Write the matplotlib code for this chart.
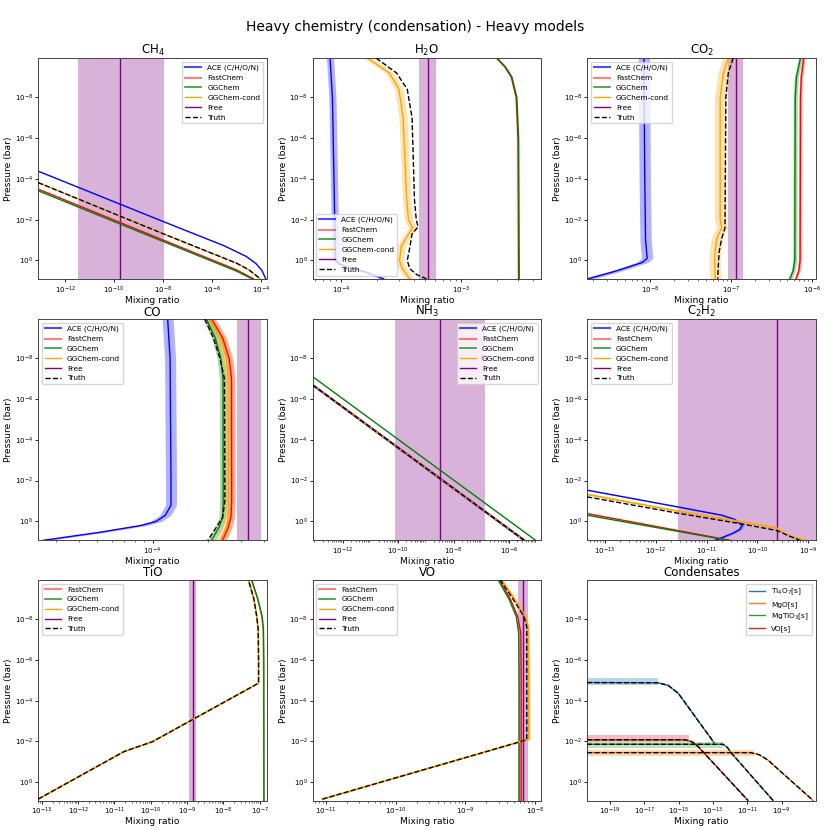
import numpy as np
import matplotlib
matplotlib.use("Agg")
from matplotlib import pyplot as plt
from matplotlib.lines import Line2D

# values
# every profile is stored as log10(pressure / bar) and log10(mixing ratio)

# CH4
ch4_ace_lp = [-4.38, -1.90, -0.72, -0.2, 0.15, 0.5, 0.9]
ch4_ace_lx = [-13.1, -7.97, -5.5, -4.6, -4.2, -3.95, -3.8]
ch4_cond_lp = [-3.82, -1.30, 0.13, 0.45, 0.9]
ch4_cond_lx = [-13.1, -7.97, -5.0, -4.5, -4.02]
ch4_fast_lp = [-3.50, -0.99, 0.46, 0.9]
ch4_fast_lx = [-13.1, -7.97, -5.0, -4.3]
ch4_gg_lp = [-3.42, -0.92, 0.52, 0.9]
ch4_gg_lx = [-13.1, -7.97, -5.0, -4.36]
ch4_free = [-9.76, -11.49, -7.97]

# H2O
h2o_ace_lp = [-9.93, -8.0, -4.0, -2.0, 0.0, 0.2, 0.4, 0.6, 0.9]
h2o_ace_lx = [-4.095, -4.075, -4.062, -4.056, -4.05, -4.01, -3.9, -3.78, -3.65]
h2o_cond_lp = [-9.93, -9.2, -8.4, -7.0, -5.0, -3.0, -2.0, -1.6, -1.2, -0.7, 0.0, 0.4, 0.9]
h2o_cond_lx = [-3.78, -3.6, -3.52, -3.485, -3.47, -3.455, -3.44, -3.405, -3.45, -3.5, -3.515, -3.49, -3.43]
h2o_truth_lp = [-9.93, -9.2, -8.4, -7.0, -3.0, -2.0, -1.65, -1.3, -0.6, 0.0, 0.4, 0.7, 0.9]
h2o_truth_lx = [-3.71, -3.54, -3.45, -3.41, -3.39, -3.375, -3.36, -3.41, -3.43, -3.45, -3.43, -3.37, -3.29]
h2o_gg_lp = [-9.93, -9.5, -9.0, -8.0, -6.0, 0.9]
h2o_gg_lx = [-2.70, -2.63, -2.576, -2.535, -2.52, -2.515]
h2o_fast_lx = [-2.706, -2.636, -2.582, -2.541, -2.526, -2.521]
h2o_free = [-3.28, -3.35, -3.21]

# CO2
co2_ace_lp = [-9.93, -4.0, -1.0, -0.1, 0.1, 0.24, 0.4, 0.56, 0.9]
co2_ace_lx = [-8.07, -8.06, -8.05, -8.03, -8.09, -8.2, -8.32, -8.45, -8.76]
co2_cond_lp = [-9.93, -9.2, -8.0, -2.0, -1.6, -1.1, -0.5, 0.0, 0.9]
co2_cond_lx = [-7.03, -7.09, -7.13, -7.13, -7.11, -7.17, -7.19, -7.2, -7.19]
co2_truth_lx = [-6.97, -7.03, -7.06, -7.07, -7.07, -7.11, -7.14, -7.15, -7.16]
co2_gg_lp = [-9.93, -9.0, -8.0, 0.0, 0.5, 0.9]
co2_gg_lx = [-6.14, -6.19, -6.205, -6.21, -6.23, -6.27]
co2_fast_lx = [-6.10, -6.13, -6.14, -6.145, -6.16, -6.196]
co2_free = [-6.94, -7.03, -6.85]

# CO
co_ace_lp = [-9.93, -8.0, -2.0, -0.8, -0.3, 0.0, 0.2, 0.53, 0.93]
co_ace_lx = [-3.918, -3.905, -3.9, -3.9, -3.93, -3.98, -4.06, -4.28, -4.59]
co_lp = [-9.93, -9.0, -8.0, -7.0, -1.0, -0.2, 0.3, 0.93]
co_gg_lx = [-3.708, -3.66, -3.63, -3.618, -3.617, -3.62, -3.64, -3.68]
co_cond_lx = [-3.69, -3.63, -3.6, -3.59, -3.59, -3.59, -3.6, -3.63]
co_fast_lx = [-3.68, -3.62, -3.585, -3.572, -3.571, -3.575, -3.59, -3.62]
co_truth_lx = [-3.717, -3.67, -3.635, -3.61, -3.608, -3.62, -3.655, -3.70]
co_free = [-3.48, -3.544, -3.413]

# NH3
nh3_lp = [-6.69, 0.93]
nh3_lx = [-13.08, -5.45]
nh3_gg_lp = [-7.1, 0.93]
nh3_gg_lx = [-13.08, -5.04]
nh3_free = [-8.47, -10.1, -6.88]

# C2H2
c2h2_ace_lp = [-1.53, -0.71, -0.3, -0.1, 0.19, 0.4, 0.6, 0.93]
c2h2_ace_lx = [-13.35, -11.57, -10.7, -10.45, -10.3, -10.35, -10.5, -10.83]
c2h2_cond_lp = [-1.32, -0.5, 0.0, 0.33, 0.69, 0.93]
c2h2_cond_lx = [-13.35, -11.57, -10.37, -9.62, -9.4, -9.07]
c2h2_truth_lp = [-1.2, -0.4, 0.1, 0.45, 0.75, 0.93]
c2h2_truth_lx = [-13.35, -11.57, -10.37, -9.62, -9.35, -9.16]
c2h2_fast_lp = [-0.38, 0.93]
c2h2_fast_lx = [-13.35, -10.54]
c2h2_gg_lp = [-0.30, 0.93]
c2h2_gg_lx = [-13.35, -10.58]
c2h2_free = [-9.62, -11.57, -8.5]

# TiO
tio_cond_lp = [0.83, -1.50, -1.99, -4.86, -6.0, -7.5, -8.13, -9.0, -9.93]
tio_cond_lx = [-13.1, -10.74, -9.95, -7.03, -7.03, -7.04, -7.08, -7.16, -7.31]
tio_gg_lp = [-9.93, -9.0, -8.13, -7.5, -6.0, 0.9]
tio_gg_lx = [-7.22, -7.05, -6.93, -6.895, -6.885, -6.88]
tio_fast_lx = [-7.23, -7.06, -6.945, -6.905, -6.895, -6.89]
tio_free = [-8.84, -8.95, -8.74]

# VO
vo_cond_lp = [0.83, -2.08, -2.1, -5.0, -7.64, -8.13, -8.95, -9.93]
vo_cond_lx = [-11.05, -8.12, -8.09, -8.09, -8.1, -8.14, -8.29, -8.48]
vo_truth_lp = [0.83, -2.08, -5.0, -7.64, -8.13, -8.95, -9.93]
vo_truth_lx = [-11.05, -8.12, -8.12, -8.12, -8.16, -8.31, -8.5]
vo_gg_lp = [-9.93, -8.95, -8.13, -7.3, -5.0, 0.9]
vo_gg_lx = [-8.53, -8.37, -8.27, -8.235, -8.23, -8.23]
vo_fast_lx = [-8.51, -8.35, -8.25, -8.205, -8.2, -8.2]
vo_free = [-8.17, -8.24, -8.10]

# Condensates
ti4o7_lp = [-4.89, -4.88, -4.75, -4.37, -1.94]
ti4o7_lx = [-20.32, -16.2, -15.6, -15.02, -12.93]
mgo_lp = [-1.45, -1.45, -1.35, -1.09, 0.9]
mgo_lx = [-20.32, -10.8, -10.3, -9.8, -7.16]
mgtio3_lp = [-1.86, -1.86, -1.7, -1.42, 0.9]
mgtio3_lx = [-20.32, -12.4, -12.15, -11.91, -9.49]
vos_lp = [-2.08, -2.08, -1.98, -1.75, 0.9]
vos_lx = [-20.32, -14.6, -14.2, -13.86, -10.95]
# condensation-pressure spread: (low, high, x where it closes)
ti4o7_band = [-5.1, -4.78, -16.2]
mgo_band = [-1.59, -1.3, -10.6]
mgtio3_band = [-1.99, -1.7, -12.4]
vos_band = [-2.32, -1.99, -14.4]

FS = 5.1
P_LIM = (10 ** 0.92, 10 ** -9.93)


def curve(ax, lp, lx, color, err=0.0, ls='-', lw=1.0, alpha=1.0, z=2):
    p = 10.0 ** np.asarray(lp)
    x = 10.0 ** np.asarray(lx)
    if err:
        ax.fill_betweenx(p, x / 10 ** err, x * 10 ** err, color=color, alpha=0.3, lw=0, zorder=z)
    ax.plot(x, p, color=color, ls=ls, lw=lw, alpha=alpha, zorder=z + 0.1)


def free(ax, vals):
    ax.axvspan(10 ** vals[1], 10 ** vals[2], color='purple', alpha=0.3, lw=0, zorder=1)
    ax.axvline(10 ** vals[0], color='purple', lw=1.0, zorder=1.5)


def handles(ace=True):
    h = []
    if ace:
        h.append(Line2D([], [], color='blue', lw=1.5, alpha=0.7, label='ACE (C/H/O/N)'))
    h += [Line2D([], [], color='red', lw=1.5, alpha=0.5, label='FastChem'),
          Line2D([], [], color='green', lw=1.2, alpha=0.8, label='GGChem'),
          Line2D([], [], color='orange', lw=1.0, label='GGChem-cond'),
          Line2D([], [], color='purple', lw=1.0, label='Free'),
          Line2D([], [], color='k', ls='--', lw=1.0, label='Truth')]
    return h


def setup(ax, title, xlim, xticks, loc, hs):
    ax.set_xscale('log')
    ax.set_yscale('log')
    ax.set_xlim(10 ** xlim[0], 10 ** xlim[1])
    ax.set_ylim(*P_LIM)
    ax.set_xticks([10.0 ** t for t in xticks])
    ax.set_yticks([1e-8, 1e-6, 1e-4, 1e-2, 1e0])
    ax.tick_params(labelsize=FS, width=0.6, length=2.5, pad=1.2)
    ax.tick_params(which='minor', width=0.4, length=1.5)
    ax.set_title(title, fontsize=8.5, pad=2.5)
    ax.set_xlabel('Mixing ratio', fontsize=6.6, labelpad=0)
    ax.set_ylabel('Pressure (bar)', fontsize=6.6, labelpad=1)
    for s in ax.spines.values():
        s.set_linewidth(0.7)
        s.set_color('#444444')
    ax.legend(handles=hs, loc=loc, fontsize=5.3, handlelength=2.2,
              borderpad=0.4, labelspacing=0.5, framealpha=0.8)


fig, axs = plt.subplots(3, 3, figsize=(8.3, 8.3), dpi=100)
fig.subplots_adjust(left=0.046, right=0.983, top=0.930, bottom=0.035, wspace=0.20, hspace=0.18)
fig.suptitle('Heavy chemistry (condensation) - Heavy models', fontsize=10, y=0.976)

# CH4
ax = axs[0, 0]
free(ax, ch4_free)
curve(ax, ch4_ace_lp, ch4_ace_lx, 'blue')
curve(ax, ch4_fast_lp, ch4_fast_lx, 'red')
curve(ax, ch4_gg_lp, ch4_gg_lx, 'green')
curve(ax, ch4_cond_lp, ch4_cond_lx, 'orange')
curve(ax, ch4_cond_lp, ch4_cond_lx, 'k', ls='--', z=3)
setup(ax, 'CH$_4$', (-13.1, -3.75), [-12, -10, -8, -6, -4], 'upper right', handles())

# H2O
ax = axs[0, 1]
free(ax, h2o_free)
curve(ax, h2o_ace_lp, h2o_ace_lx, 'blue', err=0.03)
curve(ax, h2o_gg_lp, h2o_fast_lx, 'red')
curve(ax, h2o_gg_lp, h2o_gg_lx, 'green')
curve(ax, h2o_cond_lp, h2o_cond_lx, 'orange', err=0.035)
curve(ax, h2o_truth_lp, h2o_truth_lx, 'k', ls='--', z=3)
setup(ax, 'H$_2$O', (-4.24, -2.33), [-4, -3], 'lower left', handles())

# CO2
ax = axs[0, 2]
free(ax, co2_free)
curve(ax, co2_ace_lp, co2_ace_lx, 'blue', err=0.07)
curve(ax, co2_gg_lp, co2_fast_lx, 'red', err=0.02)
curve(ax, co2_gg_lp, co2_gg_lx, 'green', err=0.025)
curve(ax, co2_cond_lp, co2_cond_lx, 'orange', err=0.07)
curve(ax, co2_cond_lp, co2_truth_lx, 'k', ls='--', z=3)
setup(ax, 'CO$_2$', (-8.77, -5.95), [-8, -7, -6], 'upper left', handles())

# CO
ax = axs[1, 0]
free(ax, co_free)
curve(ax, co_ace_lp, co_ace_lx, 'blue', err=0.03)
curve(ax, co_lp, co_fast_lx, 'red', err=0.02)
curve(ax, co_lp, co_gg_lx, 'green', err=0.02)
curve(ax, co_lp, co_cond_lx, 'orange', err=0.03)
curve(ax, co_lp, co_truth_lx, 'k', ls='--', z=3)
setup(ax, 'CO', (-4.62, -3.38), [-4], 'upper left', handles())

# NH3
ax = axs[1, 1]
free(ax, nh3_free)
curve(ax, nh3_lp, nh3_lx, 'blue', err=0.05, lw=1.5)
curve(ax, nh3_lp, nh3_lx, 'red')
curve(ax, nh3_gg_lp, nh3_gg_lx, 'green')
curve(ax, nh3_lp, nh3_lx, 'orange')
curve(ax, nh3_lp, nh3_lx, 'k', ls='--', z=3)
setup(ax, 'NH$_3$', (-13.08, -4.83), [-12, -10, -8, -6], 'upper right', handles())

# C2H2
ax = axs[1, 2]
free(ax, c2h2_free)
curve(ax, c2h2_ace_lp, c2h2_ace_lx, 'blue', err=0.04)
curve(ax, c2h2_fast_lp, c2h2_fast_lx, 'red')
curve(ax, c2h2_gg_lp, c2h2_gg_lx, 'green')
curve(ax, c2h2_cond_lp, c2h2_cond_lx, 'orange', lw=1.3)
curve(ax, c2h2_truth_lp, c2h2_truth_lx, 'k', ls='--', z=3)
setup(ax, 'C$_2$H$_2$', (-13.35, -8.85), [-13, -12, -11, -10, -9], 'upper left', handles())

# TiO
ax = axs[2, 0]
free(ax, tio_free)
curve(ax, tio_gg_lp, tio_fast_lx, 'red', alpha=0.6)
curve(ax, tio_gg_lp, tio_gg_lx, 'green')
curve(ax, tio_cond_lp, tio_cond_lx, 'orange', lw=1.3)
curve(ax, tio_cond_lp, tio_cond_lx, 'k', ls='--', z=3)
setup(ax, 'TiO', (-13.1, -6.8), [-13, -12, -11, -10, -9, -8, -7], 'upper left', handles(ace=False))

# VO
ax = axs[2, 1]
free(ax, vo_free)
curve(ax, vo_gg_lp, vo_fast_lx, 'red')
curve(ax, vo_gg_lp, vo_gg_lx, 'green')
curve(ax, vo_cond_lp, vo_cond_lx, 'orange', err=0.02, lw=1.3)
curve(ax, vo_truth_lp, vo_truth_lx, 'k', ls='--', z=3)
setup(ax, 'VO', (-11.19, -7.91), [-11, -10, -9, -8], 'upper left', handles(ace=False))

# Condensates
ax = axs[2, 2]
cond = [('Ti$_4$O$_7$[s]', ti4o7_lp, ti4o7_lx, ti4o7_band, 'tab:blue'),
        ('MgO[s]', mgo_lp, mgo_lx, mgo_band, 'tab:orange'),
        ('MgTiO$_3$[s]', mgtio3_lp, mgtio3_lx, mgtio3_band, 'tab:green'),
        ('VO[s]', vos_lp, vos_lx, vos_band, 'tab:red')]
hs = []
for name, lp, lx, band, col in cond:
    xb = [10 ** lx[0], 10 ** band[2]]
    ax.fill_between(xb, [10 ** band[0]] * 2, [10 ** band[1]] * 2, color=col, alpha=0.3, lw=0)
    curve(ax, lp, lx, col)
    curve(ax, lp, lx, 'k', ls='--', z=3)
    hs.append(Line2D([], [], color=col, lw=1.0, label=name))
setup(ax, 'Condensates', (-20.32, -7.0), [-19, -17, -15, -13, -11, -9], 'upper right', hs)

plt.savefig('out.png', dpi=100)
